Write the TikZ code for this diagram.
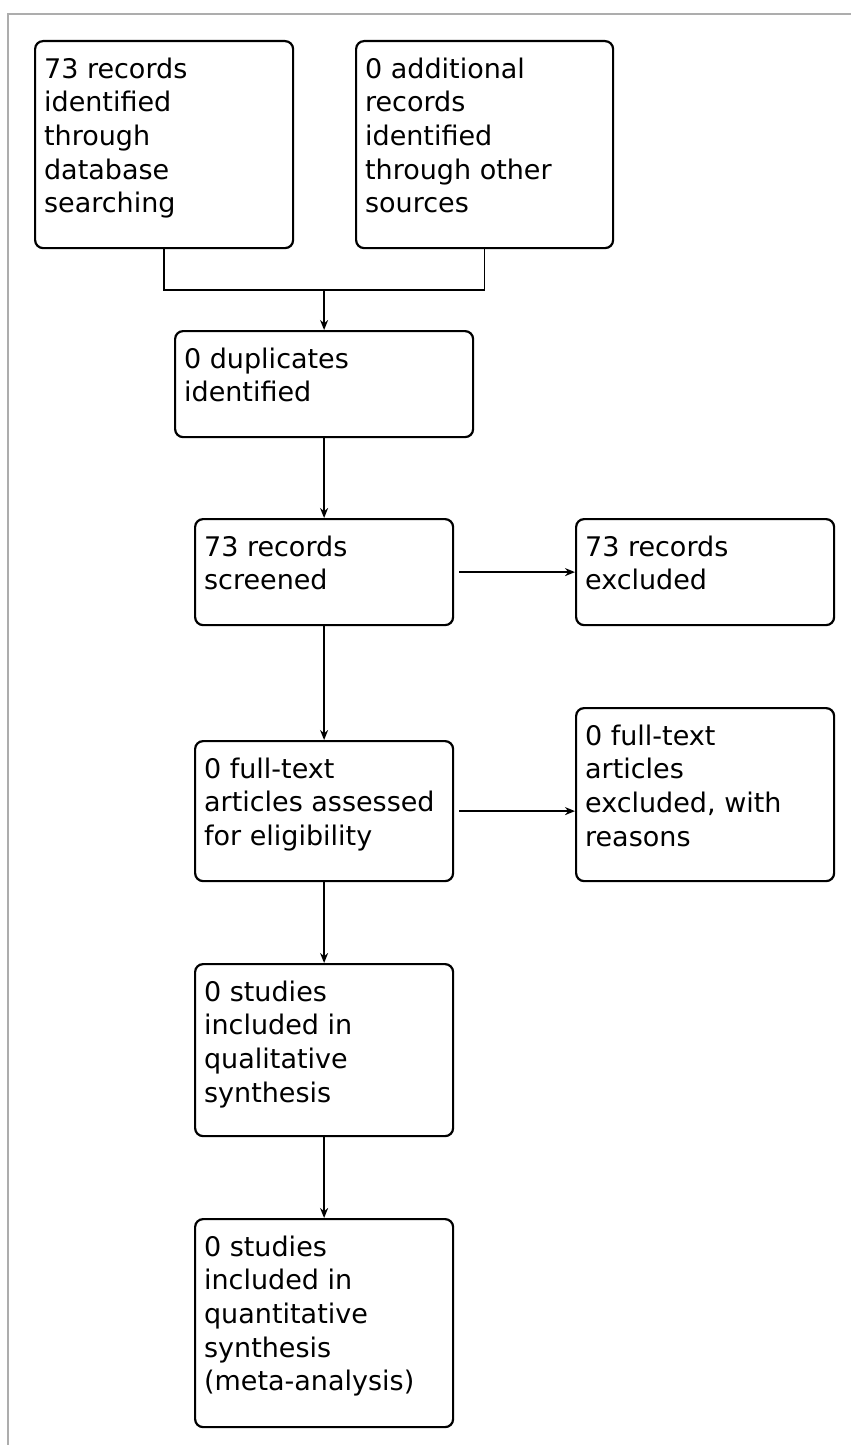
\documentclass[tikz,border=0pt]{standalone}
\usepackage{fontspec}
\setmainfont{DejaVu Sans}
\usetikzlibrary{arrows.meta}
\newcommand{\bxtext}[3]{\begin{minipage}[c][#2pt][t]{#1pt}\raggedright\leftskip=9pt\relax\rule{0pt}{37pt}#3\end{minipage}}
\tikzset{
  flowbox/.style={draw=black, line width=2.2pt, rounded corners=8pt, inner sep=0pt, anchor=north west, fill=white},
  conn/.style={draw=black, line width=1.7pt},
  arr/.style={conn, -{Stealth[length=10pt,width=8pt]}},
  frameline/.style={draw=black!32, line width=2pt}
}
\begin{document}
\begin{tikzpicture}[x=1pt, y=-1pt, font=\fontsize{27pt}{33.7pt}\selectfont]
\useasboundingbox (0,0) rectangle (851,1445);
\fill[white] (0,0) rectangle (851,1445);
\draw[frameline] (8,1445) -- (8,14) -- (851,14);

\node[flowbox] (A) at (34,40) {\bxtext{258}{207}{73 records\\identified\\through\\database\\searching}};
\node[flowbox] (B) at (355,40) {\bxtext{257}{207}{0 additional\\records\\identified\\through other\\sources}};
\node[flowbox] (C) at (174,330) {\bxtext{298}{106}{0 duplicates\\identified}};
\node[flowbox] (D) at (194,518) {\bxtext{258}{106}{73 records\\screened}};
\node[flowbox] (E) at (575,518) {\bxtext{258}{106}{73 records\\excluded}};
\node[flowbox] (F) at (194,740) {\bxtext{258}{140}{0 full-text\\articles assessed\\for eligibility}};
\node[flowbox] (G) at (575,707) {\bxtext{258}{173}{0 full-text\\articles\\excluded, with\\reasons}};
\node[flowbox] (H) at (194,963) {\bxtext{258}{172}{0 studies\\included in\\qualitative\\synthesis}};
\node[flowbox] (I) at (194,1218) {\bxtext{258}{208}{0 studies\\included in\\quantitative\\synthesis\\(meta-analysis)}};

\coordinate (j) at (323,290);
\draw[conn] (A.south) |- (B.south |- j) -- (B.south);
\draw[arr] (C.north |- j) -- (C.north);
\draw[arr] (C.south) -- (D.north);
\draw[arr] ([xshift=5pt]D.east) -- (E.west |- D.east);
\draw[arr] (D.south) -- (F.north);
\draw[arr] ([xshift=5pt]F.east) -- (G.west |- F.east);
\draw[arr] (F.south) -- (H.north);
\draw[arr] (H.south) -- (I.north);
\end{tikzpicture}
\end{document}
